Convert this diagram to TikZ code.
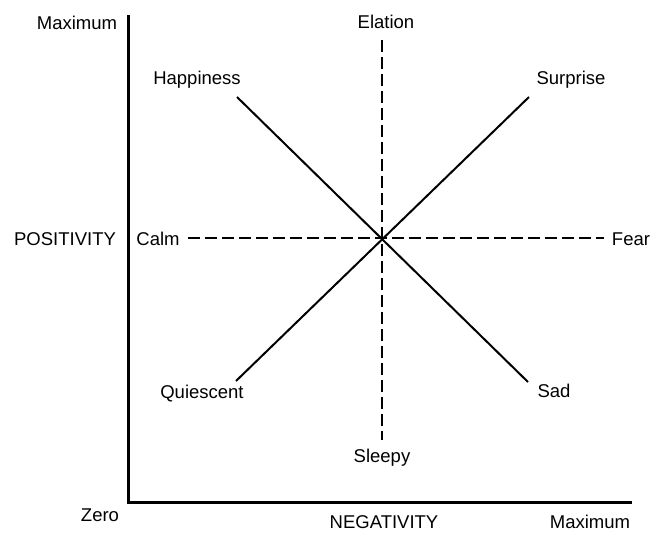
\documentclass[tikz,border=0pt]{standalone}
\usepackage{fontspec}
\setmainfont{Liberation Sans}
\begin{document}
\begin{tikzpicture}[x=1pt,y=-1pt,
  lbl/.style={inner sep=0pt,font=\fontsize{18.5}{20}\selectfont},
  axisline/.style={line width=3pt},
  solidline/.style={line width=2pt},
  dashline/.style={line width=2pt,dash pattern=on 12pt off 5pt}]
\useasboundingbox[fill=white] (0,0) rectangle (662,533);
% axes
\coordinate (ytop) at (128,15);
\coordinate (origin) at (128,502);
\coordinate (xend) at (632,502);
\draw[axisline] (ytop) -- (origin) -- (xend);
% center and line ends
\coordinate (c) at (382,238);
\coordinate (hap) at (237,97);
\coordinate (sad) at (528,382);
\coordinate (sur) at (529,97);
\coordinate (qui) at (236,381);
\coordinate (ela) at (382,40);
\coordinate (sle) at (382,440);
\coordinate (cal) at (188,238);
\coordinate (fea) at (604,238);
\draw[solidline] (hap) -- (sad);
\draw[solidline] (sur) -- (qui);
\draw[dashline] (ela) -- (sle);
\draw[dashline] (cal) -- (fea);
% labels
\node[lbl] (tmax) at (77,23) {Maximum};
\node[lbl] (tela) at (386,22) {Elation};
\node[lbl] (thap) at (197,80) {Happiness};
\node[lbl] (tsur) at (571,80) {Surprise};
\node[lbl] (tpos) at (65,239) {POSITIVITY};
\node[lbl] (tcal) at (158,239) {Calm};
\node[lbl] (tfea) at (631,239) {Fear};
\node[lbl] (tqui) at (202,394) {Quiescent};
\node[lbl] (tsad) at (554,391) {Sad};
\node[lbl] (tsle) at (382,458) {Sleepy};
\node[lbl] (tzer) at (100,515) {Zero};
\node[lbl] (tneg) at (384,522) {NEGATIVITY};
\node[lbl] (txmax) at (590,522) {Maximum};
\end{tikzpicture}
\end{document}
